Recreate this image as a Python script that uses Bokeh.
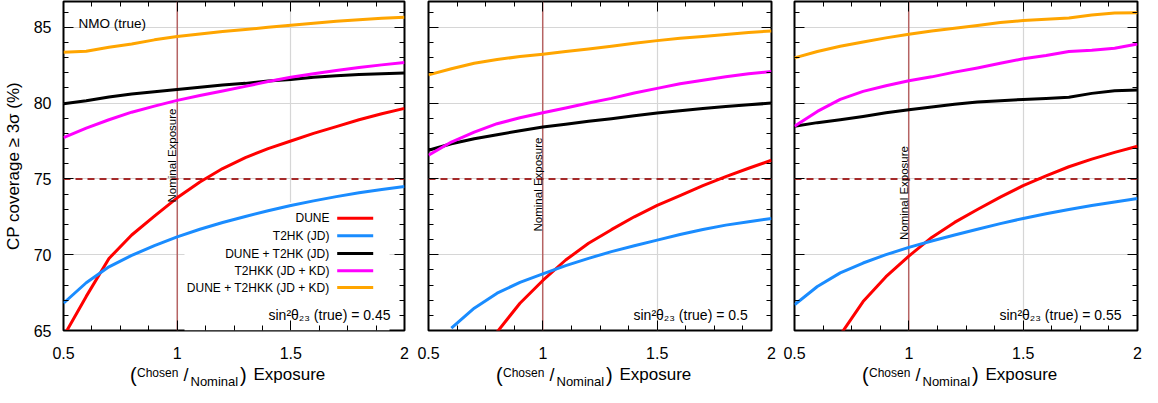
import math
from bokeh.plotting import figure
from bokeh.models import (Range1d, FixedTicker, LinearAxis, Span, Label,
                          CustomJSTickFormatter, Div)
from bokeh.layouts import row, column
from bokeh.embed import file_html
from bokeh.resources import INLINE

nan = float("nan")

# ---------------- data ----------------
exposure = [0.5, 0.6, 0.7, 0.8, 0.9, 1.0, 1.1, 1.2, 1.3, 1.4, 1.5, 1.6, 1.7, 1.8, 1.9, 2.0]

series_names = ["DUNE", "T2HK (JD)", "DUNE + T2HK (JD)", "T2HKK (JD + KD)", "DUNE + T2HKK (JD + KD)"]
series_colors = ["#ff0000", "#1a8cff", "#000000", "#ff00ff", "#ffa500"]

# sin^2 theta23 (true) = 0.45
dune_045 = [64.6, 67.25, 69.75, 71.3, 72.55, 73.75, 74.8, 75.68, 76.4, 77.0, 77.5, 78.0, 78.45, 78.9, 79.3, 79.65]
t2hk_045 = [66.8, 68.15, 69.2, 69.95, 70.6, 71.18, 71.68, 72.12, 72.52, 72.9, 73.25, 73.55, 73.83, 74.08, 74.3, 74.5]
dune_t2hk_045 = [79.95, 80.15, 80.4, 80.6, 80.75, 80.9, 81.05, 81.2, 81.3, 81.45, 81.56, 81.7, 81.8, 81.88, 81.93, 81.98]
t2hkk_045 = [77.72, 78.35, 78.9, 79.4, 79.8, 80.18, 80.5, 80.8, 81.1, 81.42, 81.7, 81.93, 82.15, 82.35, 82.52, 82.68]
dune_t2hkk_045 = [83.35, 83.42, 83.68, 83.9, 84.17, 84.39, 84.56, 84.72, 84.85, 85.0, 85.13, 85.26, 85.39, 85.5, 85.59, 85.66]

# sin^2 theta23 (true) = 0.5
dune_050 = [nan, nan, nan, 64.9, 66.8, 68.3, 69.65, 70.75, 71.65, 72.5, 73.25, 73.9, 74.55, 75.15, 75.7, 76.23]
t2hk_050 = [nan, 65.15, 66.47, 67.46, 68.18, 68.73, 69.28, 69.76, 70.2, 70.59, 70.96, 71.33, 71.66, 71.95, 72.17, 72.39]
dune_t2hk_050 = [76.89, 77.32, 77.65, 77.91, 78.18, 78.42, 78.6, 78.8, 78.97, 79.16, 79.34, 79.49, 79.65, 79.78, 79.89, 80.0]
t2hkk_050 = [76.56, 77.43, 78.09, 78.64, 79.03, 79.36, 79.67, 80.0, 80.31, 80.66, 80.97, 81.27, 81.51, 81.73, 81.93, 82.09]
dune_t2hkk_050 = [81.86, 82.26, 82.63, 82.87, 83.07, 83.22, 83.4, 83.57, 83.75, 83.95, 84.12, 84.28, 84.39, 84.52, 84.65, 84.76]

# sin^2 theta23 (true) = 0.55
dune_055 = [nan, nan, 64.7, 66.91, 68.55, 69.91, 71.14, 72.13, 72.98, 73.8, 74.55, 75.2, 75.8, 76.3, 76.75, 77.15]
t2hk_055 = [66.7, 67.9, 68.8, 69.45, 70.0, 70.48, 70.9, 71.3, 71.68, 72.05, 72.39, 72.7, 72.98, 73.25, 73.48, 73.7]
dune_t2hk_055 = [78.47, 78.71, 78.9, 79.12, 79.36, 79.56, 79.74, 79.93, 80.07, 80.15, 80.24, 80.31, 80.39, 80.64, 80.81, 80.86]
t2hkk_055 = [78.47, 79.45, 80.24, 80.77, 81.14, 81.47, 81.73, 82.04, 82.32, 82.63, 82.92, 83.14, 83.4, 83.49, 83.62, 83.9]
dune_t2hkk_055 = [82.98, 83.4, 83.75, 84.03, 84.3, 84.54, 84.76, 84.93, 85.11, 85.31, 85.44, 85.53, 85.61, 85.81, 85.94, 85.96]

panel_series = [
    [dune_045, t2hk_045, dune_t2hk_045, t2hkk_045, dune_t2hkk_045],
    [dune_050, t2hk_050, dune_t2hk_050, t2hkk_050, dune_t2hkk_050],
    [dune_055, t2hk_055, dune_t2hk_055, t2hkk_055, dune_t2hkk_055],
]
panel_labels = ["sin\u00b2\u03b8\u2082\u2083 (true) = 0.45",
                "sin\u00b2\u03b8\u2082\u2083 (true) = 0.5",
                "sin\u00b2\u03b8\u2082\u2083 (true) = 0.55"]

x_ticks = [0.5, 1, 1.5, 2]
x_tick_labels = ["0.5", "1", "1.5", "2"]
x_minor = [0.625, 0.75, 0.875, 1.125, 1.25, 1.375, 1.625, 1.75, 1.875]
y_ticks = [65, 70, 75, 80, 85]
y_minor = [66, 67, 68, 69, 71, 72, 73, 74, 76, 77, 78, 79, 81, 82, 83, 84, 86]

nominal = 1.0
threshold = 75.0
X0, X1 = 0.5, 2.0
Y0, Y1 = 65.0, 86.7

# ---------------- layout (page pixels) ----------------
FONT = "Liberation Sans"
FRAME_W = [341, 343, 343]
BORDER_L = [59, 12, 12]
BORDER_R = [12, 11, 6]
FRAME_TOP = 9
FRAME_H = 329
FRAME_BOTTOM = FRAME_TOP + FRAME_H
FIG_H = 366          # canvas height of each figure
TITLE_H = 21         # height of the x-title strip
nominal_label_page_y = [163, 192, 200.5]


def fx(k, px_from_left):
    return X0 + px_from_left / FRAME_W[k] * (X1 - X0)


def fy(page_y):
    return Y0 + (FRAME_BOTTOM - page_y) / FRAME_H * (Y1 - Y0)


def style_axis(ax, ticker, labels=True):
    ax.ticker = ticker
    ax.axis_line_color = None
    ax.major_tick_in = 10
    ax.major_tick_out = 0
    ax.minor_tick_in = 5
    ax.minor_tick_out = 0
    ax.major_tick_line_color = "black"
    ax.minor_tick_line_color = "black"
    ax.major_tick_line_width = 1
    ax.minor_tick_line_width = 1
    ax.major_label_text_font = FONT
    ax.major_label_text_font_size = "16px"
    ax.major_label_text_color = "black"
    if not labels:
        ax.formatter = CustomJSTickFormatter(code="return ''")
        ax.major_label_standoff = 0


def make_panel(k):
    p = figure(frame_width=FRAME_W[k], frame_height=FRAME_H,
               min_border_left=BORDER_L[k], min_border_right=BORDER_R[k],
               min_border_top=FRAME_TOP - 8, min_border_bottom=FIG_H - (FRAME_BOTTOM - 8),
               x_range=Range1d(X0, X1), y_range=Range1d(Y0, Y1),
               output_backend="svg", toolbar_location=None)
    p.background_fill_color = "white"
    p.border_fill_color = "white"
    p.outline_line_color = "black"
    p.outline_line_width = 2

    style_axis(p.xaxis[0], FixedTicker(ticks=x_ticks, minor_ticks=x_minor))
    p.xaxis[0].major_label_overrides = dict(zip(x_ticks, x_tick_labels))
    p.xaxis[0].major_label_standoff = 16

    yt = FixedTicker(ticks=y_ticks, minor_ticks=y_minor)
    if k == 0:
        style_axis(p.yaxis[0], yt)
        p.yaxis[0].major_label_standoff = 12
        p.yaxis[0].axis_label = "CP coverage \u2265 3\u03c3 (%)"
        p.yaxis[0].axis_label_text_font = FONT
        p.yaxis[0].axis_label_text_font_size = "17px"
        p.yaxis[0].axis_label_text_font_style = "normal"
        p.yaxis[0].axis_label_text_color = "black"
        p.yaxis[0].axis_label_standoff = 8
    else:
        style_axis(p.yaxis[0], yt, labels=False)

    top = LinearAxis()
    style_axis(top, FixedTicker(ticks=x_ticks, minor_ticks=x_minor), labels=False)
    p.add_layout(top, "above")
    right = LinearAxis()
    style_axis(right, FixedTicker(ticks=y_ticks, minor_ticks=y_minor), labels=False)
    p.add_layout(right, "right")

    p.xgrid.ticker = FixedTicker(ticks=[1, 1.5])
    p.ygrid.ticker = FixedTicker(ticks=[70, 75, 80, 85])
    for g in (p.xgrid[0], p.ygrid[0]):
        g.grid_line_color = "#d6d6d6"
        g.grid_line_width = 1.2

    p.add_layout(Span(location=threshold, dimension="width", line_color="#a52a2a",
                      line_width=2, line_dash="7 5", level="underlay"))
    p.add_layout(Span(location=nominal, dimension="height", line_color="#a52a2a",
                      line_width=1, level="underlay"))

    if k == 0:
        # opaque key box
        p.quad(left=[fx(0, 121)], right=[fx(0, 326)], bottom=[Y0], top=[fy(210)],
               fill_color="white", line_color=None)

    for vals, col in zip(panel_series[k], series_colors):
        p.line(exposure, vals, line_color=col, line_width=3, line_join="round")

    if k == 0:
        rows_y = [225.7, 243.3, 261.0, 278.3, 295.0]
        for name, py in zip(series_names, rows_y):
            p.add_layout(Label(x=fx(0, 266), y=fy(py), text=name, text_font=FONT,
                               text_font_size="12px", text_align="right",
                               text_baseline="middle", text_color="black"))
        p.segment(x0=[fx(0, 273.7)] * 5, x1=[fx(0, 309.7)] * 5,
                  y0=[fy(v) for v in rows_y], y1=[fy(v) for v in rows_y],
                  line_color=series_colors, line_width=3)
        p.add_layout(Label(x=fx(0, 15), y=fy(31), text="NMO (true)", text_font=FONT,
                           text_font_size="13.5px", text_align="left",
                           text_baseline="alphabetic", text_color="black"))

    p.add_layout(Label(x=fx(k, 205), y=fy(322), text=panel_labels[k], text_font=FONT,
                       text_font_size="14px", text_align="left",
                       text_baseline="alphabetic", text_color="black"))

    p.add_layout(Label(x=nominal, y=fy(nominal_label_page_y[k]), text="Nominal Exposure",
                       text_font=FONT, text_font_size="11.5px", angle=math.pi / 2,
                       text_align="center", text_baseline="middle", x_offset=-5,
                       text_color="black"))
    return p


def make_title(k):
    fig_w = BORDER_L[k] + FRAME_W[k] + BORDER_R[k]
    c = BORDER_L[k] + FRAME_W[k] / 2
    # (text, offset from frame centre, baseline inside strip, font px)
    pieces = [("(", -99.5, 16, 20), ("Chosen", -92.5, 11, 12), ("/", -46, 15, 18),
              ("Nominal", -39, 20, 13), (")", 10.5, 16, 20), ("Exposure", 24, 14, 17)]
    spans = []
    for txt, off, base, fs in pieces:
        top = base - 0.8465 * fs
        spans.append(
            f'<span style="position:absolute; left:{c + off:.1f}px; top:{top:.1f}px; '
            f'font-size:{fs}px; line-height:{fs}px; white-space:nowrap;">{txt}</span>')
    html = (f'<div style="position:relative; width:{fig_w}px; height:{TITLE_H}px; '
            f'font-family:\'{FONT}\'; color:black;">' + "".join(spans) + "</div>")
    return Div(text=html, width=fig_w, height=TITLE_H, margin=0)


panels = [make_panel(k) for k in range(3)]
titles = [make_title(k) for k in range(3)]
layout = column(row(*panels, spacing=0), row(*titles, spacing=0), spacing=0)

open("out.html", "w").write(file_html(layout, INLINE))
